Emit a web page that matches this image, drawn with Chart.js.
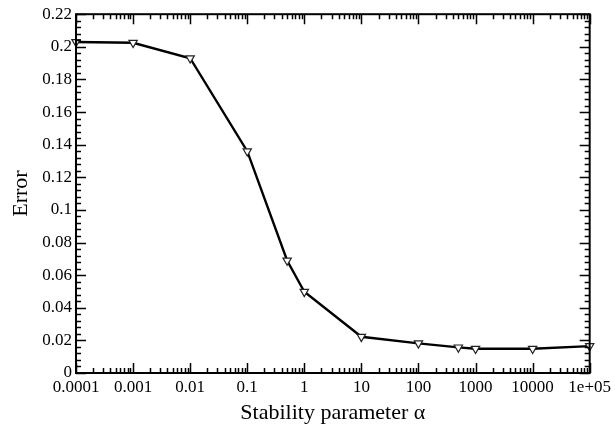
<!DOCTYPE html>
<html>
<head>
<meta charset="utf-8">
<script src="https://cdn.jsdelivr.net/npm/chart.js@4/dist/chart.umd.min.js"></script>
<style>
  html, body { margin: 0; padding: 0; background: #fff; }
  #wrap { width: 615px; height: 430px; }
</style>
</head>
<body>
<div id="wrap"><canvas id="graph"></canvas></div>
<script>
// values
const alphaValues = [0.0001, 0.001, 0.01, 0.1, 0.5, 1, 10, 100, 500, 1000, 10000, 100000];
const errorValues = [0.203, 0.2025, 0.193, 0.136, 0.069, 0.0498, 0.0222, 0.0182, 0.0157, 0.0149, 0.0149, 0.0165];

const xTickValues = [0.0001, 0.001, 0.01, 0.1, 1, 10, 100, 1000, 10000, 100000];
const xTickLabels = ['0.0001', '0.001', '0.01', '0.1', '1', '10', '100', '1000', '10000', '1e+05'];
const yTickValues = [0, 0.02, 0.04, 0.06, 0.08, 0.1, 0.12, 0.14, 0.16, 0.18, 0.2, 0.22];
const yTickLabels = ['0', '0.02', '0.04', '0.06', '0.08', '0.1', '0.12', '0.14', '0.16', '0.18', '0.2', '0.22'];

const FONT = '"Liberation Serif", "Times New Roman", serif';

// inward ticks on all four sides, plus the frame
const frameTicks = {
    id: 'frameTicks',
    afterDraw(chart) {
        const ctx = chart.ctx;
        const a = chart.chartArea;
        const x = chart.scales.x;
        const y = chart.scales.y;
        const major = 10, minor = 5;

        ctx.save();
        ctx.strokeStyle = '#000';
        ctx.lineWidth = 1.5;

        function xTick(v, len) {
            const px = Math.round(x.getPixelForValue(v)) + 0.5;
            ctx.beginPath();
            ctx.moveTo(px, a.bottom); ctx.lineTo(px, a.bottom - len);
            ctx.moveTo(px, a.top); ctx.lineTo(px, a.top + len);
            ctx.stroke();
        }
        function yTick(v, len) {
            const py = Math.round(y.getPixelForValue(v)) + 0.5;
            ctx.beginPath();
            ctx.moveTo(a.left, py); ctx.lineTo(a.left + len, py);
            ctx.moveTo(a.right, py); ctx.lineTo(a.right - len, py);
            ctx.stroke();
        }

        for (let i = 0; i < xTickValues.length; i++) {
            xTick(xTickValues[i], major);
            if (i < xTickValues.length - 1) {
                for (let m = 2; m <= 9; m++) {
                    xTick(xTickValues[i] * m, minor);
                }
            }
        }
        for (let i = 0; i < yTickValues.length; i++) {
            yTick(yTickValues[i], major);
            if (i < yTickValues.length - 1) {
                for (let m = 1; m <= 4; m++) {
                    yTick(yTickValues[i] + m * 0.004, minor);
                }
            }
        }

        ctx.lineWidth = 2;
        ctx.strokeRect(a.left, a.top, a.right - a.left, a.bottom - a.top);
        ctx.restore();
    }
};

new Chart(document.getElementById('graph'), {
    type: 'line',
    data: {
        datasets: [{
            data: alphaValues.map((v, i) => ({ x: v, y: errorValues[i] })),
            borderColor: '#000',
            borderWidth: 2.4,
            pointStyle: 'triangle',
            rotation: 180,
            pointRadius: 4.8,
            pointBorderWidth: 1.2,
            pointBorderColor: '#222',
            pointBackgroundColor: '#fff',
            tension: 0,
            clip: false
        }]
    },
    options: {
        responsive: true,
        maintainAspectRatio: false,
        animation: false,
        layout: { padding: { left: 0, right: 23, top: 14, bottom: 0 } },
        plugins: {
            legend: { display: false },
            tooltip: { enabled: false }
        },
        scales: {
            x: {
                type: 'logarithmic',
                min: 0.0001,
                max: 100000,
                grid: { display: false, drawTicks: false },
                border: { display: false },
                afterBuildTicks: scale => {
                    scale.ticks = xTickValues.map(v => ({ value: v }));
                },
                afterFit: scale => { scale.height = 57; },
                ticks: {
                    autoSkip: false,
                    maxRotation: 0,
                    padding: 4,
                    color: '#000',
                    font: { family: FONT, size: 17 },
                    callback: (v, i) => xTickLabels[i]
                },
                title: {
                    display: true,
                    text: 'Stability parameter α',
                    color: '#000',
                    font: { family: FONT, size: 22 },
                    padding: { top: 2, bottom: 4 }
                }
            },
            y: {
                min: 0,
                max: 0.22,
                grid: { display: false, drawTicks: false },
                border: { display: false },
                afterBuildTicks: scale => {
                    scale.ticks = yTickValues.map(v => ({ value: v }));
                },
                afterFit: scale => { scale.width = 76; },
                ticks: {
                    autoSkip: false,
                    padding: 4,
                    color: '#000',
                    font: { family: FONT, size: 17 },
                    callback: (v, i) => yTickLabels[i]
                },
                title: {
                    display: true,
                    text: 'Error',
                    color: '#000',
                    font: { family: FONT, size: 22 },
                    padding: { top: 8, bottom: 0 }
                }
            }
        }
    },
    plugins: [frameTicks]
});
</script>
</body>
</html>
